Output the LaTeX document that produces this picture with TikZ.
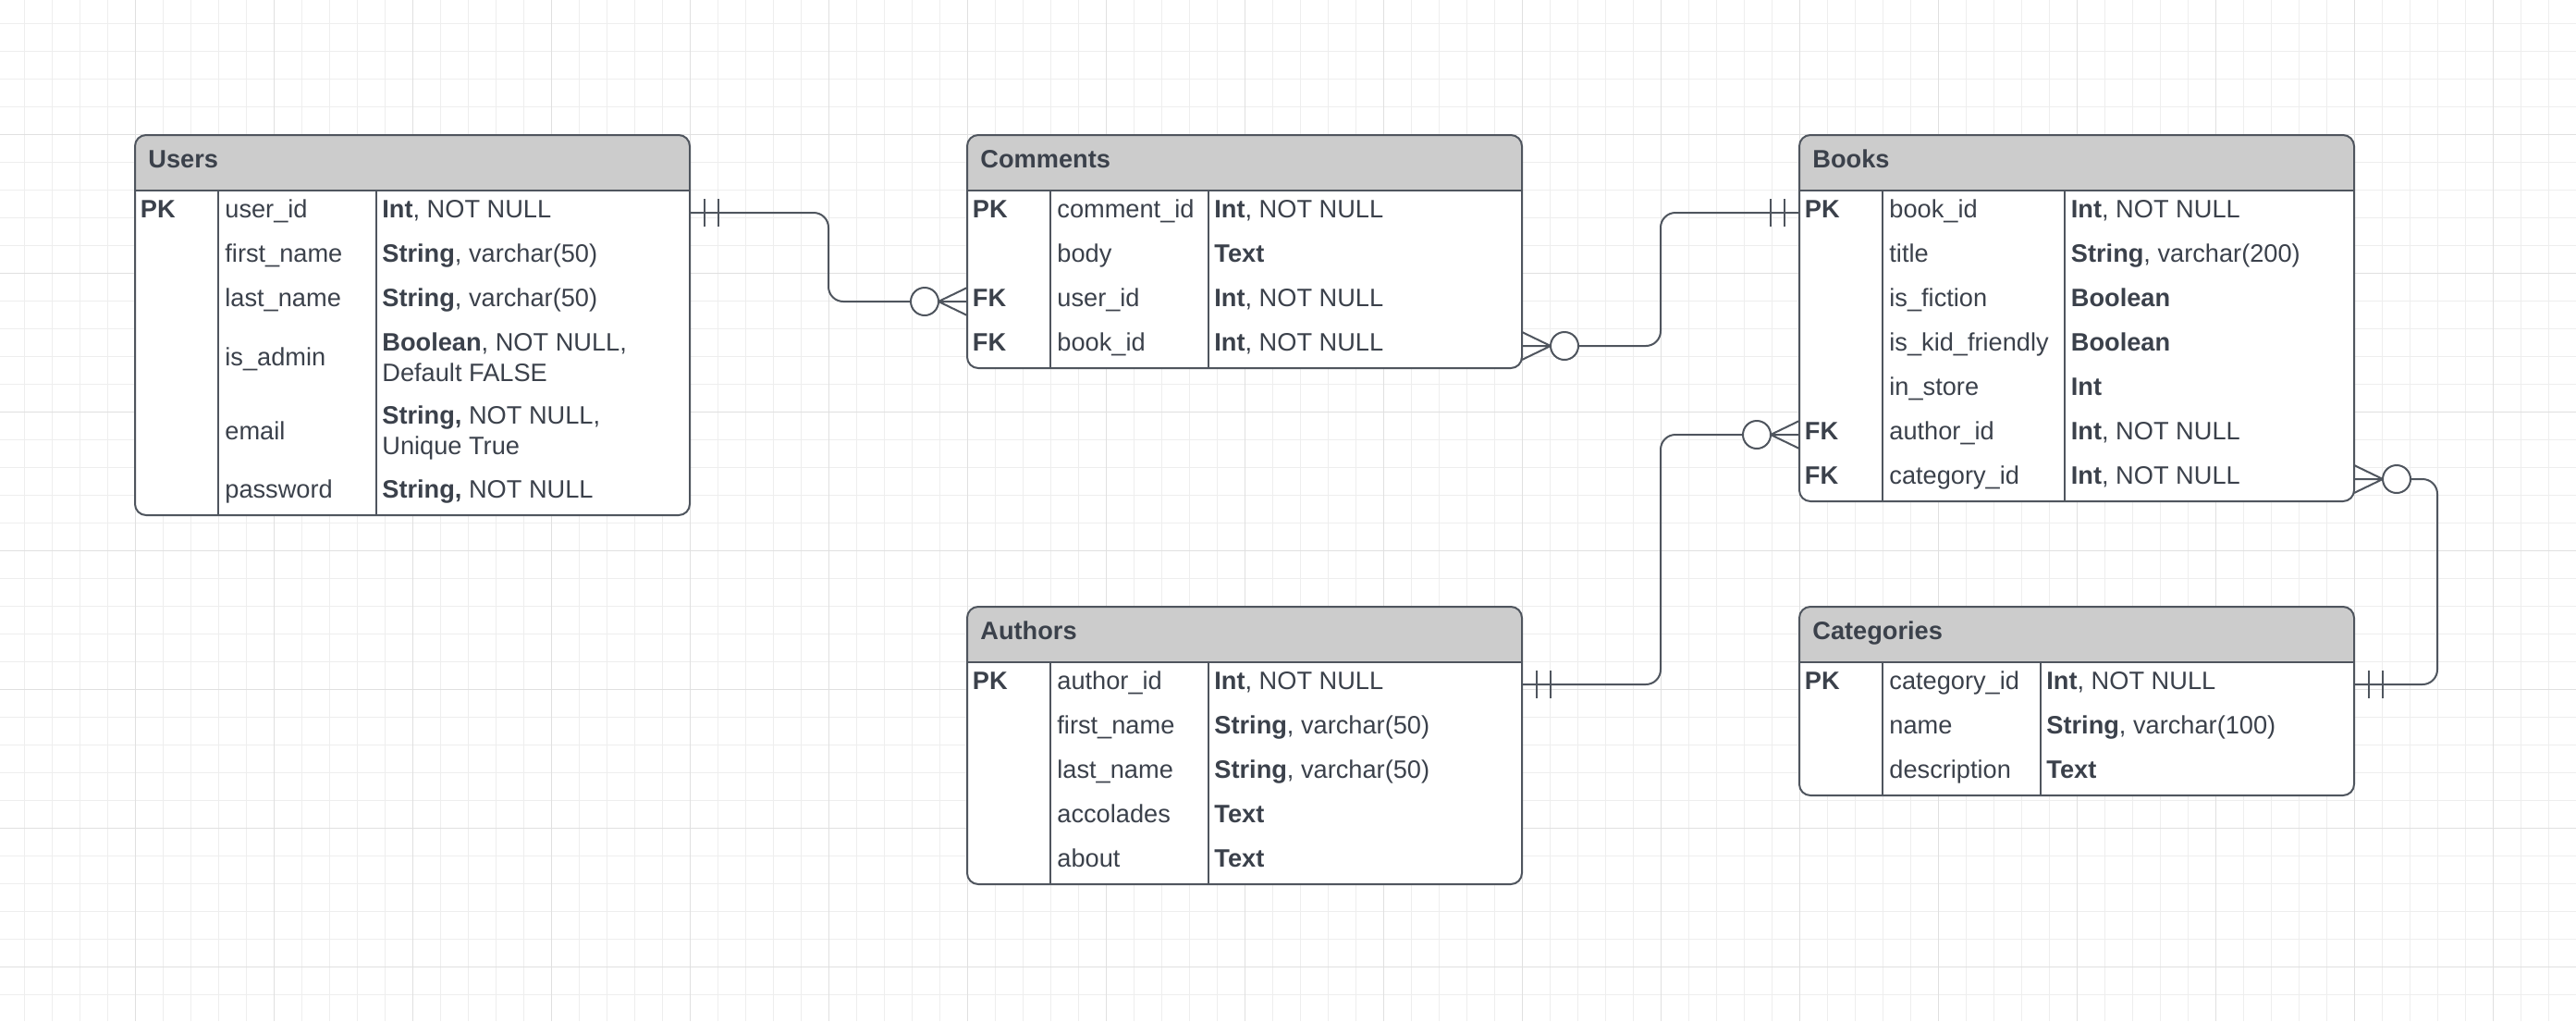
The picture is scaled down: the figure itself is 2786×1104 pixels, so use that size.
\documentclass[tikz,border=0pt]{standalone}
\usepackage{fontspec}
\setmainfont{Liberation Sans}
\usepackage{tikz}
\usetikzlibrary{calc}
\usepackage{xcolor}

\definecolor{erink}{HTML}{3B414B}
\definecolor{erline}{HTML}{4F555E}
\definecolor{erhead}{HTML}{CCCCCC}
\definecolor{gridlo}{HTML}{EEEEEE}
\definecolor{gridhi}{HTML}{E0E0E0}

\newcommand{\erfont}{\fontsize{13.6}{16.5}\selectfont}

\tikzset{
  entity/.style={draw=erline, line width=1pt, fill=white, rounded corners=6pt,
    anchor=north west, inner sep=0pt, outer sep=0pt, minimum width=300pt,
    path picture={
      \fill[erhead, sharp corners] (path picture bounding box.north west)
        rectangle ([yshift=-30pt]path picture bounding box.north east);
      \draw[erline, line width=1pt, sharp corners]
        ([yshift=-30pt]path picture bounding box.north west)
        -- ([yshift=-30pt]path picture bounding box.north east);
    }},
  cell/.style={anchor=west, inner sep=0pt, text height=9pt, text depth=3.5pt},
  key/.style={cell, font=\erfont\bfseries},
  title/.style={cell, font=\erfont\bfseries},
  divider/.style={draw=erline, line width=1pt},
  conn/.style={draw=erline, line width=1pt, rounded corners=8pt},
  zc/.style={circle, draw=erline, line width=1pt, fill=white,
    minimum size=15pt, inner sep=0pt, outer sep=0pt},
}

\begin{document}
\begin{tikzpicture}[x=0.5pt, y=-0.5pt, font=\erfont, text=erink]
    \useasboundingbox (0,0) rectangle (2786,1104);

    % Grid
    \fill[white] (0,0) rectangle (2786,1104);
    \foreach \gx in {26.5,56.5,...,2786} \draw[gridlo, line width=0.5pt] (\gx,0) -- (\gx,1104);
    \foreach \gy in {25.7,55.7,...,1104} \draw[gridlo, line width=0.5pt] (0,\gy) -- (2786,\gy);
    \foreach \gx in {146.5,296.5,...,2786} \draw[gridhi, line width=0.5pt] (\gx,0) -- (\gx,1104);
    \foreach \gy in {145.7,295.7,...,1104} \draw[gridhi, line width=0.5pt] (0,\gy) -- (2786,\gy);

    % Users
    \node[entity, minimum height=205.5pt] (users) at (146,146) {};
    \draw[divider] (236,206) -- (236,557);
    \draw[divider] (407,206) -- (407,557);
    \node[title] (u-title) at (160,176) {Users};
    \node[key] (u-pk) at (151.5,230) {PK};
    \node[cell] (u-user-id) at (243,230) {user\_id};
    \node[cell] (u-user-id-type) at (413,230) {\textbf{Int}, NOT NULL};
    \node[cell] (u-first-name) at (243,278) {first\_name};
    \node[cell] (u-first-name-type) at (413,278) {\textbf{String}, varchar(50)};
    \node[cell] (u-last-name) at (243,326) {last\_name};
    \node[cell] (u-last-name-type) at (413,326) {\textbf{String}, varchar(50)};
    \node[cell] (u-is-admin) at (243,390) {is\_admin};
    \node[cell] (u-is-admin-type) at (413,373.5) {\textbf{Boolean}, NOT NULL,};
    \node[cell] (u-is-admin-type2) at (413,406.5) {Default FALSE};
    \node[cell] (u-email) at (243,469.5) {email};
    \node[cell] (u-email-type) at (413,453) {\textbf{String,} NOT NULL,};
    \node[cell] (u-email-type2) at (413,486) {Unique True};
    \node[cell] (u-password) at (243,533) {password};
    \node[cell] (u-password-type) at (413,533) {\textbf{String,} NOT NULL};

    % Comments
    \node[entity, minimum height=126pt] (comments) at (1046,146) {};
    \draw[divider] (1136,206) -- (1136,398);
    \draw[divider] (1307,206) -- (1307,398);
    \node[title] (c-title) at (1060,176) {Comments};
    \node[key] (c-pk) at (1051.5,230) {PK};
    \node[cell] (c-comment-id) at (1143,230) {comment\_id};
    \node[cell] (c-comment-id-type) at (1313,230) {\textbf{Int}, NOT NULL};
    \node[cell] (c-body) at (1143,278) {body};
    \node[cell] (c-body-type) at (1313,278) {\textbf{Text}};
    \node[key] (c-fk1) at (1051.5,326) {FK};
    \node[cell] (c-user-id) at (1143,326) {user\_id};
    \node[cell] (c-user-id-type) at (1313,326) {\textbf{Int}, NOT NULL};
    \node[key] (c-fk2) at (1051.5,374) {FK};
    \node[cell] (c-book-id) at (1143,374) {book\_id};
    \node[cell] (c-book-id-type) at (1313,374) {\textbf{Int}, NOT NULL};

    % Books
    \node[entity, minimum height=198pt] (books) at (1946,146) {};
    \draw[divider] (2036,206) -- (2036,542);
    \draw[divider] (2233,206) -- (2233,542);
    \node[title] (b-title) at (1960,176) {Books};
    \node[key] (b-pk) at (1951.5,230) {PK};
    \node[cell] (b-book-id) at (2043,230) {book\_id};
    \node[cell] (b-book-id-type) at (2239.5,230) {\textbf{Int}, NOT NULL};
    \node[cell] (b-title-f) at (2043,278) {title};
    \node[cell] (b-title-type) at (2239.5,278) {\textbf{String}, varchar(200)};
    \node[cell] (b-is-fiction) at (2043,326) {is\_fiction};
    \node[cell] (b-is-fiction-type) at (2239.5,326) {\textbf{Boolean}};
    \node[cell] (b-is-kid) at (2043,374) {is\_kid\_friendly};
    \node[cell] (b-is-kid-type) at (2239.5,374) {\textbf{Boolean}};
    \node[cell] (b-in-store) at (2043,422) {in\_store};
    \node[cell] (b-in-store-type) at (2239.5,422) {\textbf{Int}};
    \node[key] (b-fk1) at (1951.5,470) {FK};
    \node[cell] (b-author-id) at (2043,470) {author\_id};
    \node[cell] (b-author-id-type) at (2239.5,470) {\textbf{Int}, NOT NULL};
    \node[key] (b-fk2) at (1951.5,518) {FK};
    \node[cell] (b-category-id) at (2043,518) {category\_id};
    \node[cell] (b-category-id-type) at (2239.5,518) {\textbf{Int}, NOT NULL};

    % Authors
    \node[entity, minimum height=150pt] (authors) at (1046,656) {};
    \draw[divider] (1136,716) -- (1136,956);
    \draw[divider] (1307,716) -- (1307,956);
    \node[title] (a-title) at (1060,686) {Authors};
    \node[key] (a-pk) at (1051.5,740) {PK};
    \node[cell] (a-author-id) at (1143,740) {author\_id};
    \node[cell] (a-author-id-type) at (1313,740) {\textbf{Int}, NOT NULL};
    \node[cell] (a-first-name) at (1143,788) {first\_name};
    \node[cell] (a-first-name-type) at (1313,788) {\textbf{String}, varchar(50)};
    \node[cell] (a-last-name) at (1143,836) {last\_name};
    \node[cell] (a-last-name-type) at (1313,836) {\textbf{String}, varchar(50)};
    \node[cell] (a-accolades) at (1143,884) {accolades};
    \node[cell] (a-accolades-type) at (1313,884) {\textbf{Text}};
    \node[cell] (a-about) at (1143,932) {about};
    \node[cell] (a-about-type) at (1313,932) {\textbf{Text}};

    % Categories
    \node[entity, minimum height=102pt] (categories) at (1946,656) {};
    \draw[divider] (2036,716) -- (2036,860);
    \draw[divider] (2207,716) -- (2207,860);
    \node[title] (k-title) at (1960,686) {Categories};
    \node[key] (k-pk) at (1951.5,740) {PK};
    \node[cell] (k-category-id) at (2043,740) {category\_id};
    \node[cell] (k-category-id-type) at (2213,740) {\textbf{Int}, NOT NULL};
    \node[cell] (k-name) at (2043,788) {name};
    \node[cell] (k-name-type) at (2213,788) {\textbf{String}, varchar(100)};
    \node[cell] (k-description) at (2043,836) {description};
    \node[cell] (k-description-type) at (2213,836) {\textbf{Text}};

    % bends halfway between the columns
    \coordinate (mid-left) at ($(users.east)!.5!(comments.west)$);
    \coordinate (mid-right) at ($(comments.east)!.5!(books.west)$);

    % Users -- Comments
    \node[zc] (c-o1) at ($(comments.west |- c-user-id)+(-46,0)$) {};
    \draw[conn] (users.east |- u-user-id) -| (mid-left |- c-o1.west) -- (c-o1.west);
    \draw[conn] ($(users.east |- u-user-id)+(16,-15)$) -- ++(0,30) ++(15,-30) -- ++(0,30);
    \draw[conn] (c-o1.east) -- (comments.west |- c-user-id)
                (c-o1.east) -- ($(comments.west |- c-user-id)+(0,-15)$)
                (c-o1.east) -- ($(comments.west |- c-user-id)+(0,15)$);

    % Comments -- Books
    \node[zc] (c-o2) at ($(comments.east |- c-book-id)+(46,0)$) {};
    \draw[conn] (c-o2.east) -| (mid-right |- b-book-id) -- (books.west |- b-book-id);
    \draw[conn] ($(books.west |- b-book-id)+(-31,-15)$) -- ++(0,30) ++(15,-30) -- ++(0,30);
    \draw[conn] (c-o2.west) -- (comments.east |- c-book-id)
                (c-o2.west) -- ($(comments.east |- c-book-id)+(0,-15)$)
                (c-o2.west) -- ($(comments.east |- c-book-id)+(0,15)$);

    % Authors -- Books
    \node[zc] (b-o1) at ($(books.west |- b-author-id)+(-46,0)$) {};
    \draw[conn] (authors.east |- a-author-id) -| (mid-right |- b-o1.west) -- (b-o1.west);
    \draw[conn] ($(authors.east |- a-author-id)+(16,-15)$) -- ++(0,30) ++(15,-30) -- ++(0,30);
    \draw[conn] (b-o1.east) -- (books.west |- b-author-id)
                (b-o1.east) -- ($(books.west |- b-author-id)+(0,-15)$)
                (b-o1.east) -- ($(books.west |- b-author-id)+(0,15)$);

    % Categories -- Books
    \node[zc] (b-o2) at ($(books.east |- b-category-id)+(46,0)$) {};
    \draw[conn] (b-o2.east) -- ++(29,0) |- (categories.east |- k-category-id);
    \draw[conn] ($(categories.east |- k-category-id)+(16,-15)$) -- ++(0,30) ++(15,-30) -- ++(0,30);
    \draw[conn] (b-o2.west) -- (books.east |- b-category-id)
                (b-o2.west) -- ($(books.east |- b-category-id)+(0,-15)$)
                (b-o2.west) -- ($(books.east |- b-category-id)+(0,15)$);
\end{tikzpicture}
\end{document}
